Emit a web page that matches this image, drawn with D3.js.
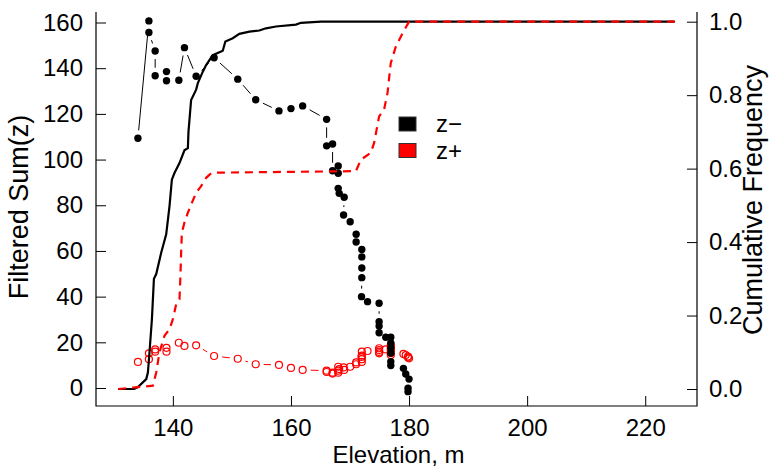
<!DOCTYPE html>
<html>
<head>
<meta charset="utf-8">
<script src="https://cdn.jsdelivr.net/npm/d3@7/dist/d3.min.js"></script>
<style>
  html, body { margin: 0; padding: 0; background: #fff; }
  svg { display: block; }
  text { font-family: "Liberation Sans", Arial, Helvetica, sans-serif; fill: #000; }
</style>
</head>
<body>
<svg id="chart" width="773" height="468"></svg>
<script>
// Elevation (m) of each filtered sample, with the filtered sums on either side
const elevation = [
  134.08, 135.94, 135.94, 137.0, 137.0, 138.92, 138.92, 141.01, 141.96, 143.94,
  146.98, 150.99, 154.03, 157.97, 160.0, 161.98, 166.04, 166.04, 167.05, 167.05,
  168.0, 168.0, 168.0, 168.17, 169.01, 168.91, 170.03, 171.04, 171.04, 172.0,
  172.0, 172.0, 172.0, 171.95, 172.97, 174.93, 174.93, 174.93, 174.93, 176.06,
  176.91, 176.91, 176.91, 176.91, 176.91, 176.91, 179.05, 179.44, 180.0, 179.83,
  179.83
];
const zMinus = [
  109.3, 160.7, 155.6, 147.5, 136.7, 138.5, 134.5, 134.7, 149.0, 136.5,
  144.6, 135.2, 126.2, 121.3, 122.3, 123.5, 117.6, 106.0, 106.8, 95.1,
  97.2, 94.0, 87.4, 85.2, 83.5, 75.7, 72.8, 67.3, 63.9, 60.6,
  57.4, 52.5, 48.3, 40.0, 37.8, 37.1, 29.0, 27.1, 24.2, 22.2,
  22.2, 19.7, 17.5, 15.3, 11.5, 9.8, 8.6, 6.1, 3.9, -0.1,
  -1.6
];
const zPlus = [
  11.4, 15.2, 12.6, 16.9, 15.9, 17.6, 15.9, 19.8, 18.4, 18.7,
  14.0, 12.8, 10.4, 10.1, 8.8, 7.9, 7.6, 7.0, 6.7, 6.3,
  9.3, 7.6, 6.7, 8.3, 7.9, 9.0, 9.3, 10.4, 11.2, 15.9,
  14.2, 12.6, 11.4, 13.6, 16.2, 17.4, 15.2, 16.6, 15.8, 16.9,
  18.8, 17.1, 15.3, 18.0, 16.2, 14.4, 14.9, 14.4, 13.0, 13.8,
  13.4
];

// Cumulative frequency curves (right axis)
const cumMinusElev = [
  130.75, 133.46, 134.08, 135.49, 135.77, 136.04, 136.45, 136.79, 137.18, 138.02,
  138.87, 139.43, 139.83, 140.27, 141.12, 141.96, 142.54, 142.64, 143.09, 143.94,
  144.23, 145.07, 145.63, 146.76, 148.45, 148.89, 150.14, 151.26, 152.95, 154.64,
  155.77, 157.46, 160.84, 161.69, 165.07, 225.0
];
const cumMinus = [
  0, 0, 0.005, 0.027, 0.045, 0.1, 0.19, 0.3, 0.313, 0.371,
  0.421, 0.498, 0.57, 0.588, 0.615, 0.65, 0.656, 0.70, 0.787, 0.815,
  0.833, 0.864, 0.882, 0.909, 0.921, 0.946, 0.955, 0.967, 0.973, 0.976,
  0.982, 0.987, 0.992, 0.997, 1.0, 1.0
];
const cumPlusElev = [
  130.75, 136.62, 137.18, 137.73, 138.58, 139.43, 140.0, 140.56, 141.12, 141.28,
  141.4, 141.52, 141.96, 142.54, 143.09, 143.94, 144.78, 145.63, 146.47, 146.93,
  170.48, 170.99, 171.83, 173.52, 174.08, 174.93, 175.77, 176.35, 176.9, 177.75,
  178.88, 180.0, 225.0
];
const cumPlus = [
  0, 0.009, 0.045, 0.1, 0.145, 0.163, 0.19, 0.231, 0.244, 0.307,
  0.371, 0.426, 0.453, 0.48, 0.502, 0.534, 0.552, 0.575, 0.587, 0.589,
  0.593, 0.593, 0.624, 0.643, 0.67, 0.742, 0.761, 0.806, 0.887, 0.932,
  0.968, 1.0, 1.0
];

const xTicks = [140, 160, 180, 200, 220];
const yTicks = [0, 20, 40, 60, 80, 100, 120, 140, 160];
const cumTicks = [0, 0.2, 0.4, 0.6, 0.8, 1.0];
const legendLabels = ["z\u2212", "z+"];
const legendColors = ["#000000", "#ff0000"];

const svg = d3.select("#chart");
const plot = { left: 96, right: 697, top: 12, bottom: 406 };

const x = d3.scaleLinear().domain([126.98, 228.77]).range([plot.left, plot.right]);
// left axis: 0 sits at y=388, 160 at y=22.5
const kL = (388 - 22.5) / 160;
const y = d3.scaleLinear()
  .domain([(388 - plot.bottom) / kL, (388 - plot.top) / kL])
  .range([plot.bottom, plot.top]);
// right axis: 0.0 at y=389, 1.0 at y=21.7
const kR = (389 - 21.7);
const yR = d3.scaleLinear()
  .domain([(389 - plot.bottom) / kR, (389 - plot.top) / kR])
  .range([plot.bottom, plot.top]);

const tickFont = 24, titleFont = 27, tickLen = 10;

// axes (ticks point inward)
const gx = svg.append("g").attr("transform", `translate(0,${plot.bottom})`)
  .call(d3.axisTop(x).tickValues(xTicks).tickSize(tickLen).tickFormat(d3.format("d")));
gx.select(".domain").remove();
gx.selectAll("text").attr("y", 13).attr("dy", "0.71em")
  .style("font-size", tickFont + "px").style("font-family", null);

const gy = svg.append("g").attr("transform", `translate(${plot.left},0)`)
  .call(d3.axisRight(y).tickValues(yTicks).tickSize(tickLen).tickFormat(d3.format("d")));
gy.select(".domain").remove();
gy.selectAll("text").attr("x", -13).attr("text-anchor", "end")
  .style("font-size", tickFont + "px").style("font-family", null);

const gr = svg.append("g").attr("transform", `translate(${plot.right},0)`)
  .call(d3.axisLeft(yR).tickValues(cumTicks).tickSize(tickLen).tickFormat(d3.format(".1f")));
gr.select(".domain").remove();
gr.selectAll("text").attr("x", 12).attr("text-anchor", "start")
  .style("font-size", tickFont + "px").style("font-family", null);

svg.selectAll(".tick line").attr("stroke", "#000").attr("stroke-width", 1);

// open-top frame
svg.append("path")
  .attr("d", `M${plot.left},${plot.top}V${plot.bottom}H${plot.right}V${plot.top}`)
  .attr("fill", "none").attr("stroke", "#000").attr("stroke-width", 1.2);

// axis titles
svg.append("text").attr("x", (plot.left + plot.right) / 2 + 2).attr("y", 455)
  .attr("text-anchor", "middle").attr("dy", "0.35em")
  .style("font-size", "24px").text("Elevation, m");
svg.append("text")
  .attr("transform", `translate(19,207) rotate(-90)`)
  .attr("text-anchor", "middle").attr("dy", "0.35em")
  .style("font-size", titleFont + "px").text("Filtered Sum(z)");
svg.append("text")
  .attr("transform", `translate(753,200) rotate(-90)`)
  .attr("text-anchor", "middle").attr("dy", "0.35em")
  .style("font-size", titleFont + "px").text("Cumulative Frequency");

// points joined by segments that stop short of each marker
function gappedSegments(xs, ys, gap) {
  const pts = xs.map((e, i) => [x(e), y(ys[i])]);
  const segs = [];
  for (let i = 1; i < pts.length; i++) {
    const [x0, y0] = pts[i - 1], [x1, y1] = pts[i];
    const dx = x1 - x0, dy = y1 - y0, d = Math.hypot(dx, dy);
    if (d <= 2 * gap) continue;
    const ux = dx / d, uy = dy / d;
    segs.push([x0 + ux * gap, y0 + uy * gap, x1 - ux * gap, y1 - uy * gap]);
  }
  return segs;
}
const gap = 8;

svg.append("g").selectAll("line").data(gappedSegments(elevation, zPlus, gap)).join("line")
  .attr("x1", d => d[0]).attr("y1", d => d[1]).attr("x2", d => d[2]).attr("y2", d => d[3])
  .attr("stroke", "#ff0000").attr("stroke-width", 1);
svg.append("g").selectAll("circle").data(elevation).join("circle")
  .attr("cx", d => x(d)).attr("cy", (d, i) => y(zPlus[i])).attr("r", 3.5)
  .attr("fill", "none").attr("stroke", "#ff0000").attr("stroke-width", 1.2);

svg.append("g").selectAll("line").data(gappedSegments(elevation, zMinus, gap)).join("line")
  .attr("x1", d => d[0]).attr("y1", d => d[1]).attr("x2", d => d[2]).attr("y2", d => d[3])
  .attr("stroke", "#000").attr("stroke-width", 1);
svg.append("g").selectAll("circle").data(elevation).join("circle")
  .attr("cx", d => x(d)).attr("cy", (d, i) => y(zMinus[i])).attr("r", 3.7)
  .attr("fill", "#000");

// cumulative frequency curves
const cumLine = d3.line().x(d => x(d[0])).y(d => yR(d[1]));
svg.append("path").datum(cumMinusElev.map((e, i) => [e, cumMinus[i]]))
  .attr("d", cumLine).attr("fill", "none").attr("stroke", "#000").attr("stroke-width", 2.2);
svg.append("path").datum(cumPlusElev.map((e, i) => [e, cumPlus[i]]))
  .attr("d", cumLine).attr("fill", "none").attr("stroke", "#ff0000")
  .attr("stroke-width", 2.2).attr("stroke-dasharray", "8,6");

// legend
const lg = svg.append("g").attr("transform", "translate(399,117)");
legendLabels.forEach((lab, i) => {
  lg.append("rect").attr("x", 0).attr("y", i * 26.5).attr("width", 17).attr("height", 14)
    .attr("fill", legendColors[i]).attr("stroke", "#333").attr("stroke-width", 1);
  lg.append("text").attr("x", 37).attr("y", i * 26.5 + 7).attr("dy", "0.35em")
    .style("font-size", "24px").text(lab);
});
</script>
</body>
</html>
